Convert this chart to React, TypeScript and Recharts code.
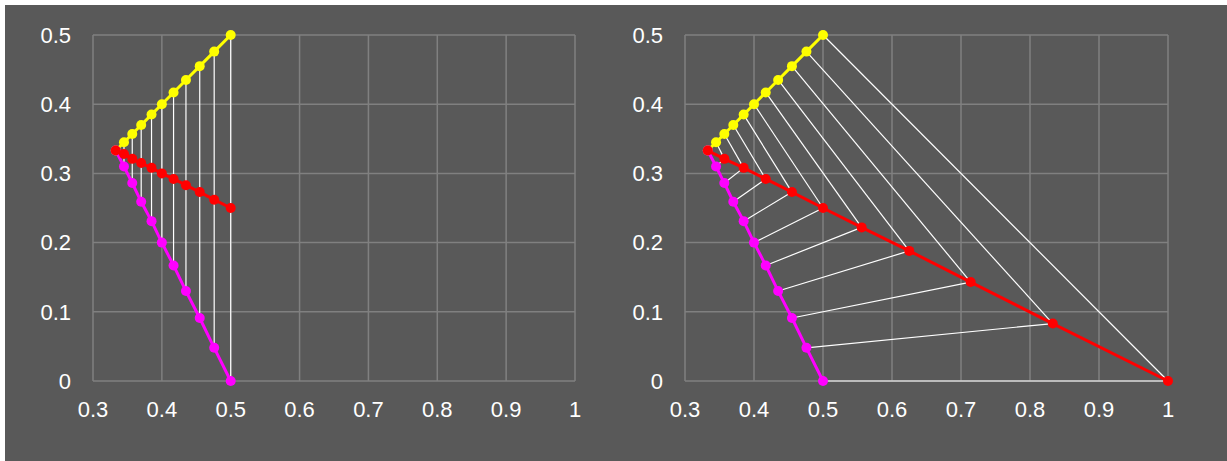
import React from "react";
import { ScatterChart, Scatter, XAxis, YAxis, CartesianGrid } from "recharts";

// shared x positions of the yellow / magenta series (also the left red series)
const baseX = [0.333, 0.345, 0.357, 0.37, 0.385, 0.4, 0.417, 0.435, 0.455, 0.476, 0.5];
const yellowY = [0.333, 0.345, 0.357, 0.37, 0.385, 0.4, 0.417, 0.435, 0.455, 0.476, 0.5];
const magentaY = [0.333, 0.31, 0.286, 0.259, 0.231, 0.2, 0.167, 0.13, 0.091, 0.048, 0];
const leftRedY = [0.333, 0.328, 0.321, 0.315, 0.308, 0.3, 0.292, 0.283, 0.273, 0.262, 0.25];

// right chart red series
const rightRedX = [0.333, 0.357, 0.385, 0.417, 0.455, 0.5, 0.556, 0.625, 0.714, 0.833, 1];
const rightRedY = [0.333, 0.321, 0.308, 0.292, 0.273, 0.25, 0.222, 0.188, 0.143, 0.083, 0];

const xTicks = [0.3, 0.4, 0.5, 0.6, 0.7, 0.8, 0.9, 1];
const yTicks = [0, 0.1, 0.2, 0.3, 0.4, 0.5];

const YELLOW = "#FFFF00";
const MAGENTA = "#FF00FF";
const RED = "#FF0000";
const BG = "#595959";
const GRID = "#808080";
const FONT = "'Liberation Sans', Arial, sans-serif";

type Pt = { x: number; y: number };

const toPts = (xs: number[], ys: number[]): Pt[] => xs.map((x, i) => ({ x, y: ys[i] }));

const yellow = toPts(baseX, yellowY);
const magenta = toPts(baseX, magentaY);
const leftRed = toPts(baseX, leftRedY);
const rightRed = toPts(rightRedX, rightRedY);

const dot = (color: string) => (p: any) =>
  <circle cx={p.cx} cy={p.cy} r={5} fill={color} />;

const noDot = () => <g />;

const tickStyle = { fill: "#ffffff", fontSize: 22, fontFamily: FONT };

function connectors(a: Pt[], b: Pt[], prefix: string) {
  return a.slice(1).map((p, i) => (
    <Scatter
      key={`${prefix}-${i}`}
      data={[p, b[i + 1]]}
      fill="#ffffff"
      line={{ stroke: "#ffffff", strokeWidth: 1.2 }}
      shape={noDot}
      isAnimationActive={false}
    />
  ));
}

function Panel({
  red,
  links,
  marginLeft,
  marginRight,
}: {
  red: Pt[];
  links: React.ReactNode[];
  marginLeft: number;
  marginRight: number;
}) {
  return (
    <ScatterChart
      width={600}
      height={456}
      margin={{ top: 30, right: marginRight, bottom: 50, left: marginLeft }}
    >
      <CartesianGrid stroke={GRID} strokeWidth={1.5} />
      <XAxis
        type="number"
        dataKey="x"
        domain={[0.3, 1]}
        ticks={xTicks}
        axisLine={false}
        tickLine={false}
        tick={tickStyle}
        tickMargin={14}
        height={30}
      />
      <YAxis
        type="number"
        dataKey="y"
        domain={[0, 0.5]}
        ticks={yTicks}
        axisLine={false}
        tickLine={false}
        tick={tickStyle}
        tickMargin={16}
        width={60}
      />
      {links}
      <Scatter
        data={yellow}
        fill={YELLOW}
        line={{ stroke: YELLOW, strokeWidth: 3 }}
        shape={dot(YELLOW)}
        isAnimationActive={false}
      />
      <Scatter
        data={magenta}
        fill={MAGENTA}
        line={{ stroke: MAGENTA, strokeWidth: 3 }}
        shape={dot(MAGENTA)}
        isAnimationActive={false}
      />
      <Scatter
        data={red}
        fill={RED}
        line={{ stroke: RED, strokeWidth: 3 }}
        shape={dot(RED)}
        isAnimationActive={false}
      />
    </ScatterChart>
  );
}

export default function App() {
  const leftLinks = connectors(yellow, magenta, "lv");
  const rightLinks = [
    ...connectors(yellow, rightRed, "ry"),
    ...connectors(magenta, rightRed, "rm"),
  ];
  return (
    <div
      style={{
        position: "absolute",
        left: 5,
        top: 5,
        width: 1222,
        height: 456,
        background: BG,
        fontFamily: FONT,
      }}
    >
      <div style={{ position: "absolute", left: 0, top: 0 }}>
        <Panel red={leftRed} links={leftLinks} marginLeft={28} marginRight={30} />
      </div>
      <div style={{ position: "absolute", left: 595, top: 0 }}>
        <Panel red={rightRed} links={rightLinks} marginLeft={25} marginRight={32} />
      </div>
    </div>
  );
}
